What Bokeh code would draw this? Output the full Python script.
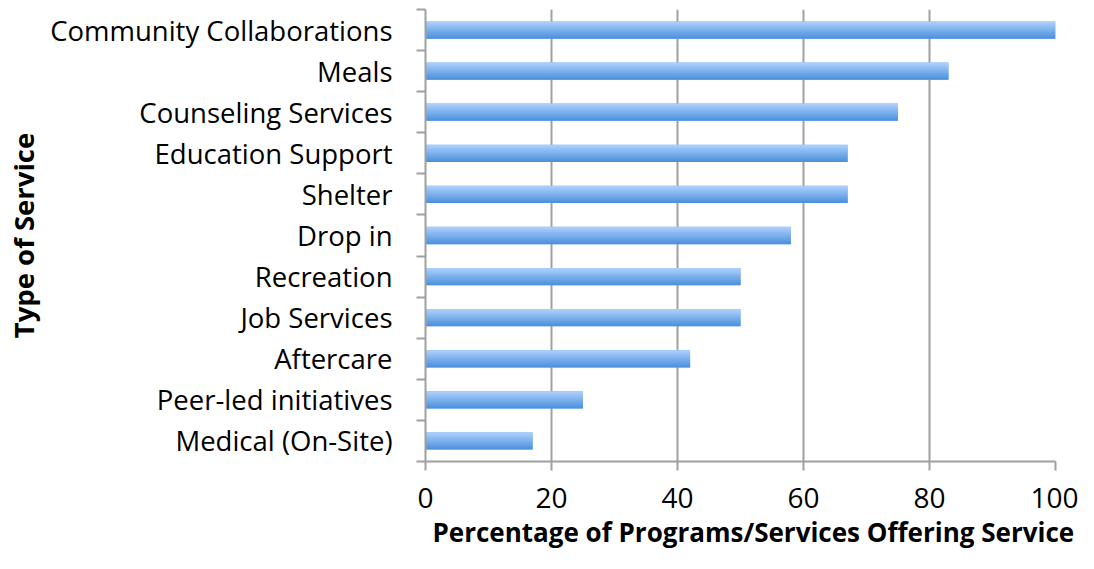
from bokeh.plotting import figure
from bokeh.models import FixedTicker, Range1d, ColumnDataSource, Title
from bokeh.embed import file_html
from bokeh.resources import INLINE

categories = ["Community Collaborations", "Meals", "Counseling Services", "Education Support",
              "Shelter", "Drop in", "Recreation", "Job Services", "Aftercare",
              "Peer-led initiatives", "Medical (On-Site)"]
values = [100, 83, 75, 67, 67, 58, 50, 50, 42, 25, 17]
x_ticks = [0, 20, 40, 60, 80, 100]

FONT = "Open Sans"
n = len(categories)

p = figure(width=1078, height=553, output_backend="svg", toolbar_location=None,
           x_range=Range1d(0, 100), y_range=Range1d(n - 0.5, -0.5),
           min_border_left=425, min_border_right=23, min_border_top=9, min_border_bottom=92)
p.outline_line_color = None
p.background_fill_color = "white"

# gradient bars made of overlapping horizontal strips
bar_h = 0.42
strips = 10
top_c = (170, 206, 252)
bot_c = (78, 146, 221)
p.hbar(y=list(range(n)), left=0, right=values, height=bar_h,
       fill_color="#7db2ee", line_color=None)
for k in range(strips):
    t = k / (strips - 1)
    col = "#%02x%02x%02x" % tuple(int(round(a + (b - a) * t)) for a, b in zip(top_c, bot_c))
    sh = bar_h / strips
    off = -bar_h / 2 + (k + 0.5) * sh
    if k == 0:
        y0, y1 = -bar_h / 2, off + sh
    elif k == strips - 1:
        y0, y1 = off - sh / 2, bar_h / 2
    else:
        y0, y1 = off - sh / 2, off + sh
    src = ColumnDataSource(dict(y=[i + (y0 + y1) / 2 for i in range(n)], right=values))
    p.hbar(y="y", left=0, right="right", height=(y1 - y0), source=src,
           fill_color=col, line_color=None)

# x axis
p.xaxis.ticker = FixedTicker(ticks=x_ticks)
p.xaxis.axis_line_color = "#a0a0a0"
p.xaxis.axis_line_width = 2
p.xaxis.major_tick_line_color = "#a0a0a0"
p.xaxis.major_tick_line_width = 2
p.xaxis.major_tick_out = 9
p.xaxis.major_tick_in = 0
p.xaxis.minor_tick_line_color = None
p.xaxis.major_label_text_font = FONT
p.xaxis.major_label_text_font_size = "28px"
p.xaxis.major_label_text_color = "black"
p.xaxis.major_label_standoff = 17

p.add_layout(Title(text="Percentage of Programs/Services Offering Service", align="left",
                   offset=7, text_font=FONT, text_font_style="bold", text_font_size="26px",
                   text_color="black", standoff=3), "below")

# y axis
p.yaxis.ticker = FixedTicker(ticks=list(range(n)), minor_ticks=[i - 0.5 for i in range(n + 1)])
p.yaxis.major_label_overrides = {i: c for i, c in enumerate(categories)}
p.yaxis.axis_line_color = "#a0a0a0"
p.yaxis.axis_line_width = 2
p.yaxis.major_tick_line_color = None
p.yaxis.major_tick_out = 0
p.yaxis.major_tick_in = 0
p.yaxis.minor_tick_line_color = "#a0a0a0"
p.yaxis.minor_tick_line_width = 2
p.yaxis.minor_tick_out = 9
p.yaxis.minor_tick_in = 0
p.yaxis.major_label_text_font = FONT
p.yaxis.major_label_text_font_size = "27.5px"
p.yaxis.major_label_text_color = "black"
p.yaxis.major_label_standoff = 24
p.yaxis.axis_label = "Type of Service"
p.yaxis.axis_label_text_font = FONT
p.yaxis.axis_label_text_font_style = "bold"
p.yaxis.axis_label_text_font_size = "27.5px"
p.yaxis.axis_label_text_color = "black"
p.yaxis.axis_label_standoff = 5

p.xgrid.ticker = FixedTicker(ticks=x_ticks)
p.xgrid.grid_line_color = "#a0a0a0"
p.xgrid.grid_line_width = 2
p.ygrid.grid_line_color = None

open("out.html", "w").write(file_html(p, INLINE))
